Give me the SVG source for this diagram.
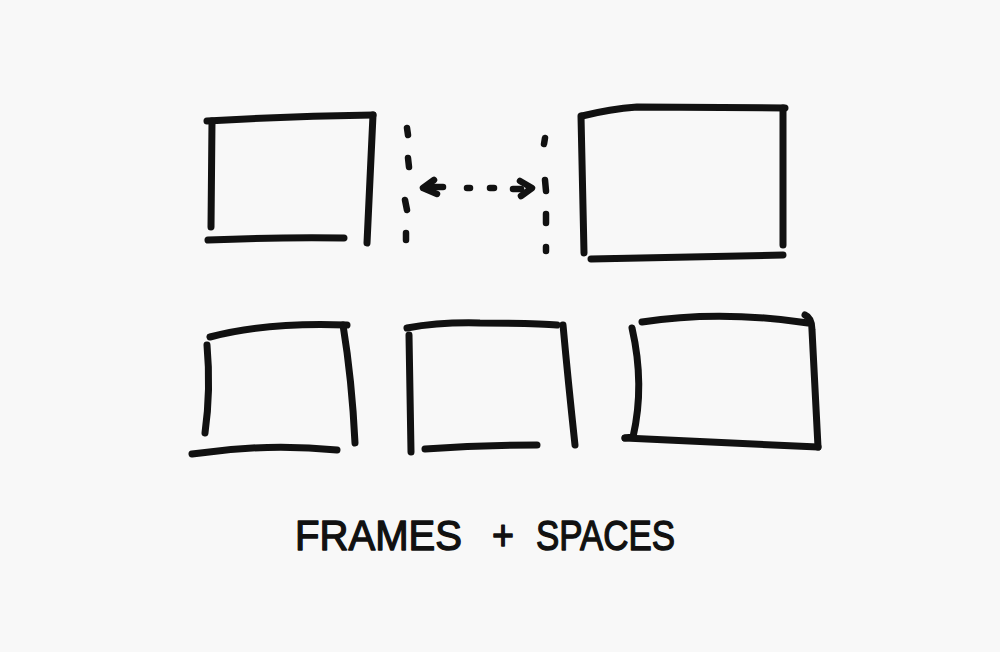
<svg xmlns="http://www.w3.org/2000/svg" width="1000" height="652" viewBox="0 0 1000 652">
<style>
.ink{fill:none;stroke:#111;stroke-width:7;stroke-linecap:round;stroke-linejoin:round}
.dash{fill:none;stroke:#111;stroke-width:6.5;stroke-linecap:round;stroke-linejoin:round}
.lbl{font-family:"Liberation Sans","DejaVu Sans",sans-serif;font-size:43px;fill:#111;stroke:#111;stroke-width:1.4;stroke-linejoin:round}
</style>
<rect width="1000" height="652" fill="#f8f8f8"/>
<g id="frame-top-left">
<path class="ink" d="M207,121 Q290,116 373,115"/>
<path class="ink" d="M212,121 L211,227"/>
<path class="ink" d="M373,115 L367,243"/>
<path class="ink" d="M208,240 Q280,237 344,238"/>
</g>
<g id="frame-top-right">
<path class="ink" d="M582,116 Q610,109 637,107 L785,108"/>
<path class="ink" d="M581,116 L584,253"/>
<path class="ink" d="M783,108 L783,245"/>
<path class="ink" d="M591,259 L783,255"/>
</g>
<g id="frame-bottom-1">
<path class="ink" d="M210,337 Q265,322 347,325"/>
<path class="ink" d="M343,325 Q352,380 355,443"/>
<path class="ink" d="M207,345 Q211,390 205,433"/>
<path class="ink" d="M192,454 Q265,443 337,450"/>
</g>
<g id="frame-bottom-2">
<path class="ink" d="M407,328 Q440,322 480,323 Q540,323 557,325"/>
<path class="ink" d="M563,325 Q568,380 575,445"/>
<path class="ink" d="M409,335 L411,452"/>
<path class="ink" d="M425,449 Q480,445 537,445"/>
</g>
<g id="frame-bottom-3">
<path class="ink" d="M642,322 Q720,310 808,323"/>
<path class="ink" d="M805,315 Q812,318 812,330 L818,447"/>
<path class="ink" d="M632,328 Q645,385 633,437 L625,438"/>
<path class="ink" d="M625,438 L818,447"/>
</g>
<g id="connectors">
<path class="dash" d="M407,128 L408,135"/>
<path class="dash" d="M408,158 L409,167"/>
<path class="dash" d="M405,200 L407,210"/>
<path class="dash" d="M406,233 L406,240"/>
<path class="dash" d="M545,138 L544,144"/>
<path class="dash" d="M545,180 L546,191"/>
<path class="dash" d="M546,214 L546,223"/>
<path class="dash" d="M546,247 L546,251"/>
<path class="dash" d="M434,180 L423,188 L437,194"/>
<path class="dash" d="M431,187 L443,187"/>
<path class="dash" d="M467,188 L470,188"/>
<path class="dash" d="M490,188 L494,188"/>
<path class="dash" d="M513,189 L521,189"/>
<path class="dash" d="M520,181 L532,188 L521,196"/>
</g>
<text class="lbl" y="550"><tspan x="295" textLength="167" lengthAdjust="spacingAndGlyphs">FRAMES</tspan><tspan x="492" textLength="22" lengthAdjust="spacingAndGlyphs">+</tspan><tspan x="536" textLength="139" lengthAdjust="spacingAndGlyphs">SPACES</tspan></text>
</svg>
